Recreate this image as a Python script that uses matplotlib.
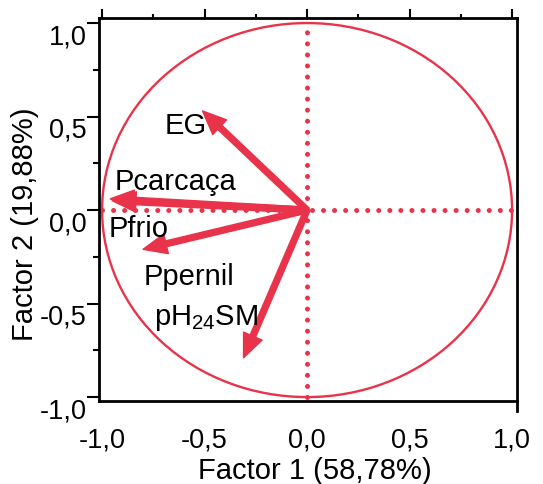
import matplotlib
matplotlib.use("Agg")
import matplotlib.pyplot as plt
from matplotlib.patches import Circle, FancyArrowPatch
from matplotlib.ticker import MultipleLocator, FixedLocator

plt.rcParams['font.family'] = ['Liberation Sans', 'DejaVu Sans']
plt.rcParams['mathtext.fontset'] = 'custom'
plt.rcParams['mathtext.rm'] = 'Liberation Sans'
plt.rcParams['mathtext.it'] = 'Liberation Sans'

# ---- data ----
variables = ["EG", "Pcarcaça", "Pfrio", "Ppernil", r"pH$_\mathregular{24}$SM"]
factor1 = [-0.51, -0.96, -0.95, -0.80, -0.31]
factor2 = [0.53, 0.06, 0.05, -0.21, -0.79]
tick_values = [-1.0, -0.5, 0.0, 0.5, 1.0]
tick_labels = ["-1,0", "-0,5", "0,0", "0,5", "1,0"]
xlabel = "Factor 1 (58,78%)"
ylabel = "Factor 2 (19,88%)"

# ---- layout ----
label_pos = [(-0.59, 0.41), (-0.64, 0.11), (-0.82, -0.139), (-0.576, -0.396), (-0.49, -0.61)]
red = '#E8334A'
fs_tick = 19.5
fs_text = 21

fig = plt.figure(figsize=(5.43, 4.85), dpi=100)
ax = fig.add_axes([99/543, 1-402/485, (517-99)/543, (402-19)/485])
ax.set_xlim(-1.015, 1.024)
ax.set_ylim(-1.021, 1.027)

# unit circle
ax.add_patch(Circle((0, 0), 1.0, fill=False, edgecolor=red, lw=1.7, zorder=2))
# dotted axes
ax.plot([0, 0], [-1, 1], color=red, lw=3.6, linestyle=(0, (0.01, 2.2)),
        dash_capstyle='round', zorder=2)
ax.plot([-1, 1], [0, 0], color=red, lw=3.6, linestyle=(0, (0.01, 2.2)),
        dash_capstyle='round', zorder=2)

# arrows
for x, y in zip(factor1, factor2):
    arr = FancyArrowPatch((0, 0), (x, y),
                          arrowstyle='simple,head_length=1.7,head_width=1.45,tail_width=0.42',
                          mutation_scale=10, color=red, shrinkA=0, shrinkB=0, zorder=3)
    ax.add_patch(arr)

for name, (lx, ly) in zip(variables, label_pos):
    ax.text(lx, ly, name, ha='center', va='baseline', fontsize=fs_text, zorder=4)

# spines
for s in ax.spines.values():
    s.set_linewidth(2.0)
ax.spines['right'].set_bounds(-1.021 - 10/187, 1.027)

# ticks
ax.xaxis.set_major_locator(FixedLocator(tick_values))
ax.xaxis.set_minor_locator(MultipleLocator(0.25))
ax.yaxis.set_major_locator(FixedLocator(tick_values))
ax.yaxis.set_minor_locator(MultipleLocator(0.25))
ax.set_xticklabels(tick_labels)
ax.set_yticklabels(tick_labels)
ax.tick_params(axis='x', which='both', bottom=False, top=True, direction='out',
               labelbottom=True, labeltop=False, width=1.5)
ax.tick_params(axis='x', which='major', length=6.5, pad=12, labelsize=fs_tick)
ax.tick_params(axis='x', which='minor', length=3)
ax.tick_params(axis='y', which='both', left=True, right=False, direction='out', width=1.5)
ax.tick_params(axis='y', which='major', length=9, pad=0, labelsize=fs_tick)
ax.tick_params(axis='y', which='minor', length=4.5)
for lbl in ax.get_yticklabels():
    lbl.set_va('top')

fig.text(315/543, 1-471/485, xlabel, ha='center', va='center', fontsize=fs_text)
fig.text(25/543, 1-224/485, ylabel, ha='center', va='center', rotation=90, fontsize=fs_text)

fig.savefig('out.png', dpi=100)
